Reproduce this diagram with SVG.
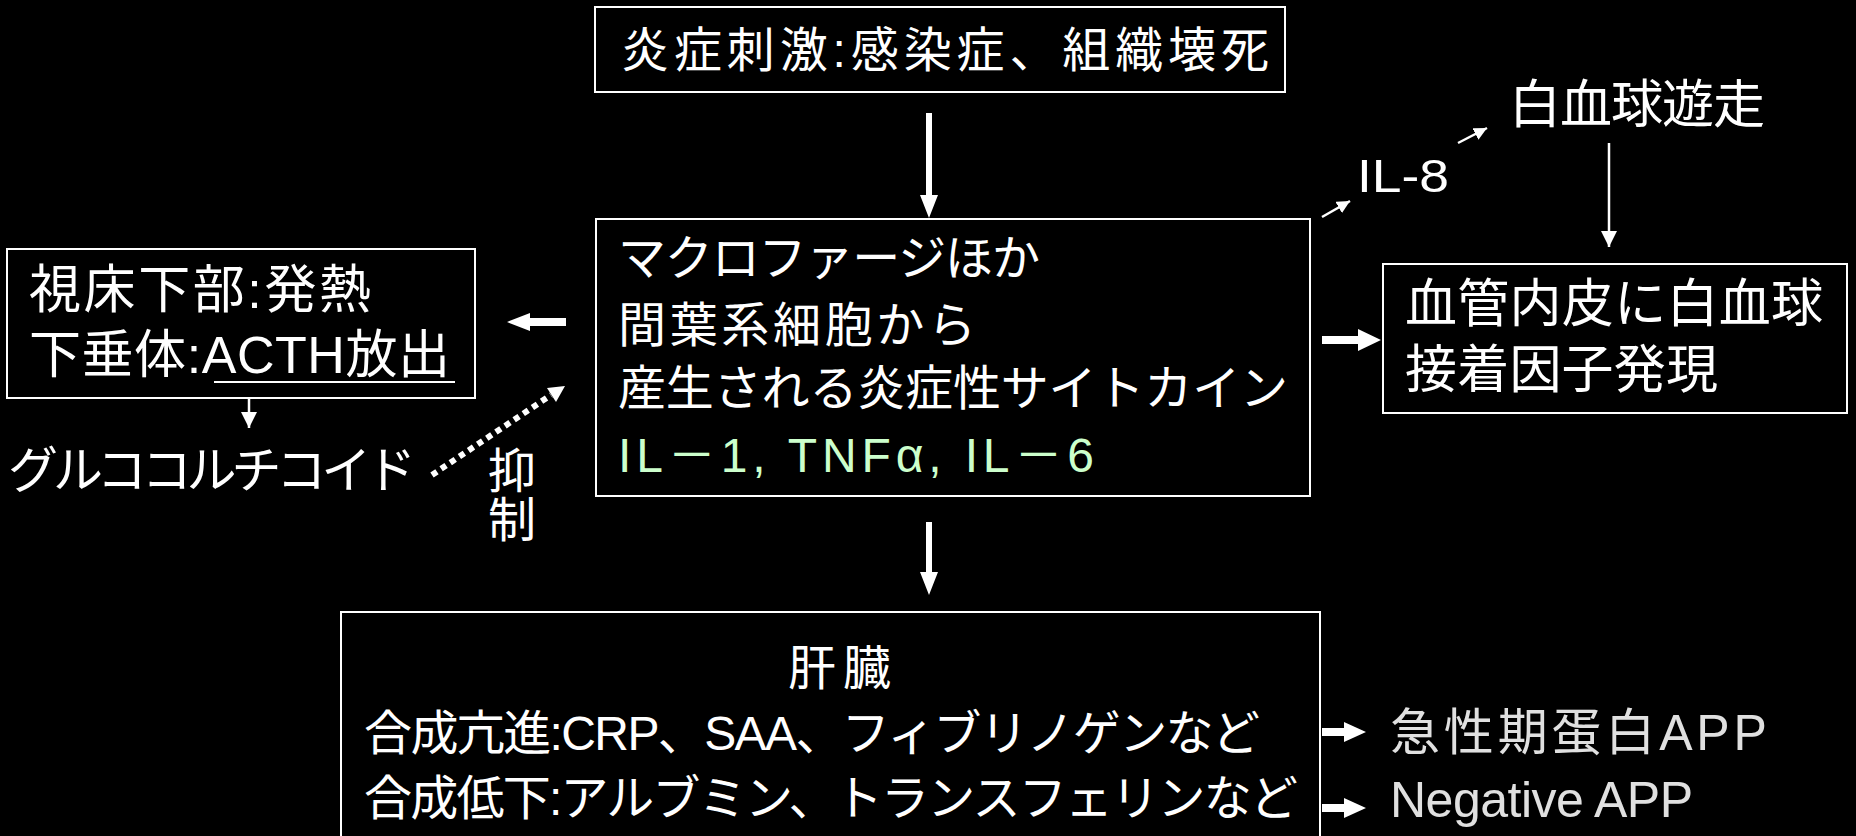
<svg xmlns="http://www.w3.org/2000/svg" width="1856" height="836" viewBox="0 0 1856 836">
<defs>
<style>
text { font-family: "Liberation Sans", "Noto Sans CJK JP", sans-serif; fill: #ffffff; }
.box { fill: #000000; stroke: #ffffff; stroke-width: 2; }
.thin { stroke: #ffffff; stroke-width: 2.5; fill: none; }
.blk { fill: #ffffff; stroke: none; }
.grn { fill: #ccffcc; }
.gry { fill: #e0e0e0; }
</style>
<marker id="ah" viewBox="0 0 10 10" refX="10" refY="5" markerWidth="16" markerHeight="16" markerUnits="userSpaceOnUse" orient="auto">
<path d="M0,0 L10,5 L0,10 Z" fill="#ffffff"/>
</marker>
<marker id="ahs" viewBox="0 0 10 10" refX="10" refY="5" markerWidth="13" markerHeight="13" markerUnits="userSpaceOnUse" orient="auto">
<path d="M0,0 L10,5 L0,10 Z" fill="#ffffff"/>
</marker>
</defs>
<rect x="0" y="0" width="1856" height="836" fill="#000000"/>

<g id="connectors">
<polygon class="blk" points="926,113 932,113 932,195 938,195 929,218 920,195 926,195"/>
<polygon class="blk" points="926,522 932,522 932,572 938,572 929,595 920,572 926,572"/>
<polygon class="blk" points="566,318 530,318 530,313 507,322 530,331 530,326 566,326"/>
<polygon class="blk" points="1322,336 1358,336 1358,329 1381,340 1358,351 1358,344 1322,344"/>
<polygon class="blk" points="1322,728 1344,728 1344,722 1366,732 1344,742 1344,736 1322,736"/>
<polygon class="blk" points="1322,804 1344,804 1344,798 1366,808 1344,818 1344,812 1322,812"/>
<line class="thin" x1="249" y1="385" x2="249" y2="428" marker-end="url(#ah)"/>
<line class="thin" x1="1609" y1="143" x2="1609" y2="247" marker-end="url(#ah)"/>
<line class="thin" x1="1322" y1="217" x2="1350" y2="201" marker-end="url(#ahs)"/>
<line class="thin" x1="1458" y1="143" x2="1487" y2="128" marker-end="url(#ahs)"/>
<line x1="432" y1="475" x2="551" y2="395" stroke="#ffffff" stroke-width="6" stroke-dasharray="6 5"/>
<polygon class="blk" points="565,386 556,402 547,388"/>
</g>

<g id="node-stimulus">
<rect class="box" x="595" y="7" width="690" height="85"/>
<text x="621" y="67" font-size="48" textLength="648">炎症刺激:感染症、組織壊死</text>
</g>

<g id="node-macrophage">
<rect class="box" x="596" y="219" width="714" height="277"/>
<text font-size="48">
<tspan x="618" y="275" textLength="422">マクロファージほか</tspan>
<tspan x="618" y="342" textLength="358">間葉系細胞から</tspan>
<tspan x="618" y="405" textLength="670">産生される炎症性サイトカイン</tspan>
<tspan class="grn" x="618" y="472" textLength="476">IL－1, TNFα, IL－6</tspan>
</text>
</g>

<g id="node-hypothalamus">
<rect class="box" x="7" y="249" width="468" height="149"/>
<text font-size="52">
<tspan x="29" y="308" textLength="342">視床下部:発熱</tspan>
<tspan x="29" y="373" textLength="421">下垂体:ACTH放出</tspan>
</text>
<line x1="214" y1="382" x2="455" y2="382" stroke="#ffffff" stroke-width="2"/>
</g>

<g id="node-glucocorticoid">
<text x="8" y="488" font-size="50" textLength="408">グルココルチコイド</text>
</g>

<g id="label-inhibit">
<text font-size="48">
<tspan x="488" y="488">抑</tspan>
<tspan x="488" y="537">制</tspan>
</text>
</g>

<g id="node-il8">
<text x="1357" y="192" font-size="46" textLength="92" lengthAdjust="spacingAndGlyphs">IL-8</text>
</g>

<g id="node-migration">
<text x="1509" y="123" font-size="52" textLength="256">白血球遊走</text>
</g>

<g id="node-endothelium">
<rect class="box" x="1383" y="264" width="464" height="149"/>
<text font-size="52">
<tspan x="1405" y="322" textLength="418">血管内皮に白血球</tspan>
<tspan x="1405" y="388" textLength="313">接着因子発現</tspan>
</text>
</g>

<g id="node-liver">
<path class="box" d="M341,840 L341,612 L1320,612 L1320,840"/>
<text font-size="48">
<tspan x="788" y="685" textLength="103">肝臓</tspan>
<tspan x="364" y="750" textLength="896">合成亢進:CRP、SAA、フィブリノゲンなど</tspan>
<tspan x="364" y="815" textLength="934">合成低下:アルブミン、トランスフェリンなど</tspan>
</text>
</g>

<g id="node-app">
<text class="gry" font-size="50">
<tspan x="1390" y="750" textLength="376">急性期蛋白APP</tspan>
<tspan x="1390" y="817" textLength="303">Negative APP</tspan>
</text>
</g>
</svg>
